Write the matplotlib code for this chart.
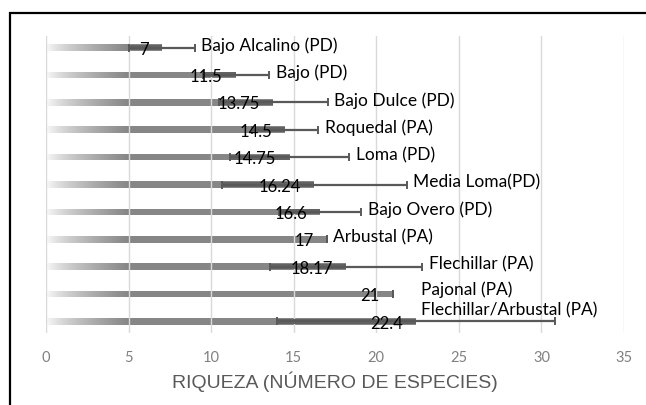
import numpy as np
import matplotlib
matplotlib.use("Agg")
import matplotlib.pyplot as plt
from matplotlib.patches import Rectangle

# data, top row first
categories = ["Bajo Alcalino (PD)", "Bajo (PD)", "Bajo Dulce (PD)", "Roquedal (PA)",
              "Loma (PD)", "Media Loma(PD)", "Bajo Overo (PD)", "Arbustal (PA)",
              "Flechillar (PA)", "Pajonal (PA)", "Flechillar/Arbustal (PA)"]
riqueza = [7, 11.5, 13.75, 14.5, 14.75, 16.24, 16.6, 17, 18.17, 21, 22.4]
riqueza_txt = ["7", "11.5", "13.75", "14.5", "14.75", "16.24", "16.6", "17", "18.17", "21", "22.4"]
error = [2.0, 2.0, 3.3, 2.0, 3.6, 5.6, 2.5, 0.0, 4.6, 0.0, 8.4]
xticks = [0, 5, 10, 15, 20, 25, 30, 35]

BAR_GRAY = "#868686"
ERR_GRAY = "#595959"
FONT = "Lato"

fig = plt.figure(figsize=(6.46, 4.05), dpi=100)
ax = fig.add_axes([46 / 646, 1 - 333 / 405, (624 - 46) / 646, (333 - 36) / 405])

y = np.arange(len(categories))
h = 0.24
ax.barh(y, riqueza, height=h, color=BAR_GRAY, zorder=2)

# white -> transparent fade at the start of every bar
grad_len = 5.0
g = np.linspace(0, 1, 256) ** 0.7
fade = np.ones((1, 256, 4))
fade[0, :, 3] = 1 - g
for yi, v in zip(y, riqueza):
    ax.imshow(fade, extent=(0, min(grad_len, v), yi + h / 2, yi - h / 2),
              aspect="auto", zorder=2.5, interpolation="bilinear")

ax.errorbar(riqueza, y, xerr=error, fmt="none", ecolor=ERR_GRAY, elinewidth=1.6,
            capsize=3, capthick=1.4, zorder=4)
# darker stretch where the lower whisker runs over the bar
lo = [v - e for v, e in zip(riqueza, error)]
ax.barh(y, error, left=lo, height=h * 0.75, color="#626262", zorder=3.8)

for yi, v, t, e, cat in zip(y, riqueza, riqueza_txt, error, categories):
    ax.text(v - 0.8, yi + 0.08, t, ha="right", va="center", fontsize=12,
            family=FONT, color="black", zorder=5)
    lx, ly = v + e + 0.4, yi - 0.07
    if cat == "Pajonal (PA)":
        lx, ly = 22.7, yi - 0.15
    elif cat == "Flechillar/Arbustal (PA)":
        lx, ly = 22.7, yi - 0.42
    ax.text(lx, ly, cat, ha="left", va="center", fontsize=12.5, family=FONT,
            color="black", zorder=5)

ax.set_xlim(0, 35)
ax.set_ylim(10.42, -0.42)
ax.set_xticks(xticks)
ax.set_xticklabels([str(t) for t in xticks], family=FONT, fontsize=10.5,
                   color="#808080")
ax.set_yticks([])
ax.tick_params(axis="x", length=0, pad=13)
ax.grid(axis="x", color="#d9d9d9", linewidth=1, zorder=3)
ax.set_axisbelow(False)
for s in ax.spines.values():
    s.set_visible(False)
ax.set_xlabel("RIQUEZA (NÚMERO DE ESPECIES)", family="Liberation Sans",
              fontsize=14, color="#595959", labelpad=5)

fig.patches.append(Rectangle((10 / 646, -0.2), 1.2, 1.2 - 13 / 405,
                             transform=fig.transFigure, fill=False,
                             edgecolor="black", linewidth=1.6))

fig.savefig("out.png", dpi=100)
